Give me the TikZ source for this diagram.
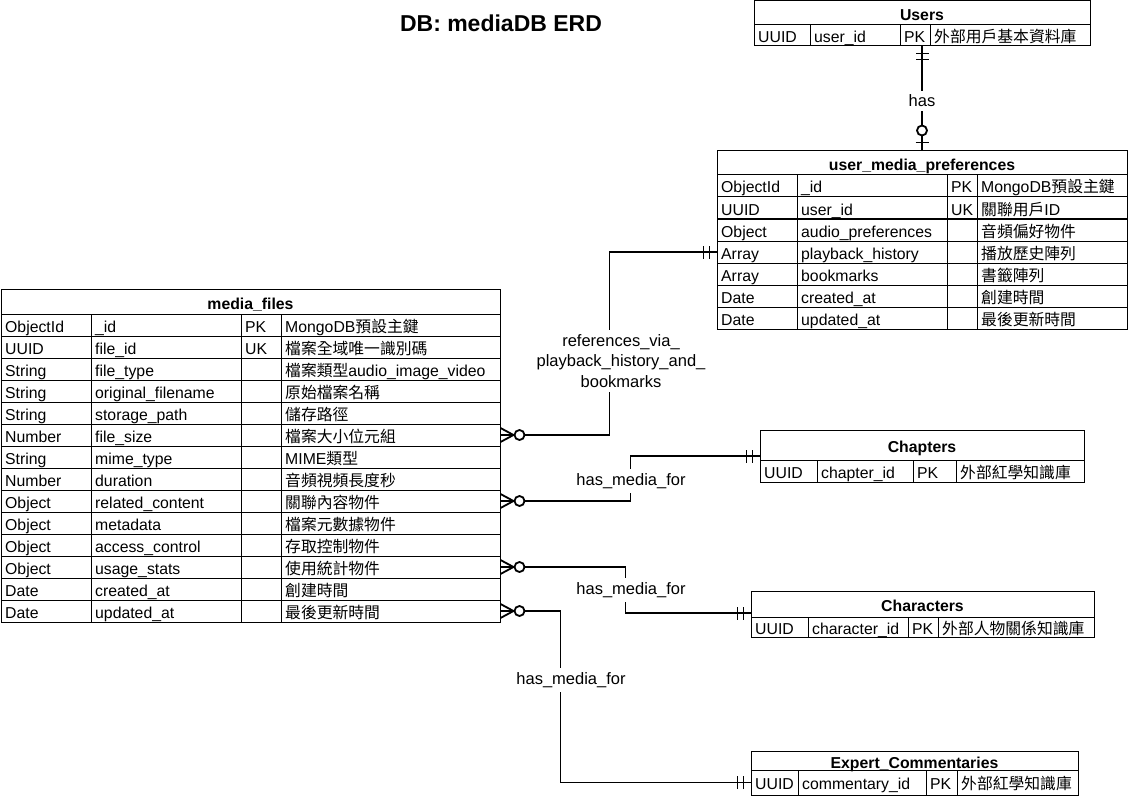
\documentclass[tikz,border=0pt]{standalone}
\usepackage{fontspec}
\setmainfont{Liberation Sans}
\newfontfamily\zhfont{Noto Sans CJK TC}
\newcommand\zh[1]{{\zhfont #1}}

\tikzset{
  tbl/.style={draw=black, line width=1pt, inner sep=0pt},
  tbltitle/.style={tbl, text height=15.5pt, text depth=0pt, font=\bfseries\fontsize{15.8}{19}\selectfont},
  cell/.style={anchor=west, inner xsep=4pt, inner ysep=0pt, text height=15pt, text depth=1pt, font=\fontsize{15.8}{19}\selectfont},
  link/.style={line width=1.8pt, black},
  lbl/.style={fill=white, inner xsep=1pt, inner ysep=4pt, align=center, font=\fontsize{16.5}{20.5}\selectfont},
  mone/.pic={\draw[link] (7,-6.5) -- (7,6.5) (13,-6.5) -- (13,6.5);},
  zone/.pic={\draw[link] (8,-6.5) -- (8,6.5); \draw[link, fill=white] (20,0) circle (5pt);},
  zmany/.pic={\draw[link] (0,-7) -- (13,0) -- (0,7) (0,0) -- (13,0); \draw[link, fill=white] (19,0) circle (5pt);},
}

\begin{document}
\begin{tikzpicture}[x=1pt, y=-1pt]
            \path[fill=white, use as bounding box] (0,0) rectangle (1128,797);
            % title
            \node[font=\bfseries\fontsize{23}{27}\selectfont] (title) at (501,23) {DB: mediaDB ERD};
            % Users table
            \node[tbltitle, minimum width=336, minimum height=24] (users) at (922,13) {Users};
            \node[tbl, minimum width=336, minimum height=21] (users-0) at (922,35.5) {};
            \node[cell] (users-0-t) at (754,35.5) {UUID};
            \node[cell] (users-0-n) at (810,35.5) {user\_id};
            \node[cell] (users-0-k) at (900,35.5) {PK};
            \node[cell] (users-0-d) at (930,35.5) {\zh{外部用戶基本資料庫}};
            \draw[tbl] (810,25) -- (810,46) (900,25) -- (900,46) (930,25) -- (930,46);
            % user_media_preferences table
            \node[tbltitle, minimum width=410, minimum height=24] (ump) at (922,163) {user\_media\_preferences};
            \foreach \t/\n/\k/\d [count=\i from 0] in {
              ObjectId/\_id/PK/MongoDB\zh{預設主鍵},
              UUID/user\_id/UK/\zh{關聯用戶}ID,
              Object/audio\_preferences//\zh{音頻偏好物件},
              Array/playback\_history//\zh{播放歷史陣列},
              Array/bookmarks//\zh{書籤陣列},
              Date/created\_at//\zh{創建時間},
              Date/updated\_at//\zh{最後更新時間}}{
              \node[tbl, minimum width=410, minimum height=22] (ump-\i) at (922,186+22*\i) {};
              \node[cell] (ump-\i-t) at (717,186+22*\i) {\t};
              \node[cell] (ump-\i-n) at (797,186+22*\i) {\n};
              \node[cell] (ump-\i-k) at (947,186+22*\i) {\k};
              \node[cell] (ump-\i-d) at (977,186+22*\i) {\d};
            }
            \draw[tbl] (797,175) -- (797,329) (947,175) -- (947,329) (977,175) -- (977,329);
            % media_files table
            \node[tbltitle, minimum width=499, minimum height=25] (mf) at (250.5,301.5) {media\_files};
            \foreach \t/\n/\k/\d [count=\i from 0] in {
              ObjectId/\_id/PK/MongoDB\zh{預設主鍵},
              UUID/file\_id/UK/\zh{檔案全域唯一識別碼},
              String/file\_type//\zh{檔案類型}audio\_image\_video,
              String/original\_filename//\zh{原始檔案名稱},
              String/storage\_path//\zh{儲存路徑},
              Number/file\_size//\zh{檔案大小位元組},
              String/mime\_type//MIME\zh{類型},
              Number/duration//\zh{音頻視頻長度秒},
              Object/related\_content//\zh{關聯內容物件},
              Object/metadata//\zh{檔案元數據物件},
              Object/access\_control//\zh{存取控制物件},
              Object/usage\_stats//\zh{使用統計物件},
              Date/created\_at//\zh{創建時間},
              Date/updated\_at//\zh{最後更新時間}}{
              \node[tbl, minimum width=499, minimum height=22] (mf-\i) at (250.5,325+22*\i) {};
              \node[cell] (mf-\i-t) at (1,325+22*\i) {\t};
              \node[cell] (mf-\i-n) at (91,325+22*\i) {\n};
              \node[cell] (mf-\i-k) at (241,325+22*\i) {\k};
              \node[cell] (mf-\i-d) at (281,325+22*\i) {\d};
            }
            \draw[tbl] (91,314) -- (91,622) (241,314) -- (241,622) (281,314) -- (281,622);
            % Chapters table
            \node[tbltitle, minimum width=324, minimum height=30] (chap) at (922,445) {Chapters};
            \node[tbl, minimum width=324, minimum height=22] (chap-0) at (922,471) {};
            \node[cell] (chap-0-t) at (760,471) {UUID};
            \node[cell] (chap-0-n) at (817,471) {chapter\_id};
            \node[cell] (chap-0-k) at (913,471) {PK};
            \node[cell] (chap-0-d) at (956,471) {\zh{外部紅學知識庫}};
            \draw[tbl] (817,460) -- (817,482) (913,460) -- (913,482) (956,460) -- (956,482);
            % Characters table
            \node[tbltitle, minimum width=343, minimum height=26] (char) at (922.5,604) {Characters};
            \node[tbl, minimum width=343, minimum height=20] (char-0) at (922.5,627) {};
            \node[cell] (char-0-t) at (751,627) {UUID};
            \node[cell] (char-0-n) at (808,627) {character\_id};
            \node[cell] (char-0-k) at (908,627) {PK};
            \node[cell] (char-0-d) at (938,627) {\zh{外部人物關係知識庫}};
            \draw[tbl] (808,617) -- (808,637) (908,617) -- (908,637) (938,617) -- (938,637);
            % Expert_Commentaries table
            \node[tbltitle, minimum width=327, minimum height=19] (exp) at (914.5,760.5) {Expert\_Commentaries};
            \node[tbl, minimum width=327, minimum height=25] (exp-0) at (914.5,782.5) {};
            \node[cell] (exp-0-t) at (751,782.5) {UUID};
            \node[cell] (exp-0-n) at (798,782.5) {commentary\_id};
            \node[cell] (exp-0-k) at (926,782.5) {PK};
            \node[cell] (exp-0-d) at (957,782.5) {\zh{外部紅學知識庫}};
            \draw[tbl] (798,770) -- (798,795) (926,770) -- (926,795) (957,770) -- (957,795);
            % has
            \draw[link] (users-0.south) -- (ump.north) node[lbl, pos=0.52] (has-lbl) {has};
            \pic[rotate=-90] at (users-0.south) {mone};
            \pic[rotate=90] at (ump.north) {zone};
            % references via playback history and bookmarks
            \draw[link] (mf-5.east) -- ++(109,0) |- (ump-3.west);
            \node[lbl] (ref-lbl) at (621,361) {references\_via\_\\playback\_history\_and\_\\bookmarks};
            \pic at (mf-5.east) {zmany};
            \pic[rotate=180] at (ump-3.west) {mone};
            % has media for chapters
            \draw[link] (mf-8.east) -- ++(130,0) |- ([yshift=-11pt]chap.west);
            \node[lbl] (chap-lbl) at (631,481) {has\_media\_for};
            \pic at (mf-8.east) {zmany};
            \pic[rotate=180] at ([yshift=-11pt]chap.west) {mone};
            % has media for characters
            \draw[link] (mf-11.east) -- ++(125,0) |- ([yshift=-9pt]char.west);
            \node[lbl] (char-lbl) at (631,590) {has\_media\_for};
            \pic at (mf-11.east) {zmany};
            \pic[rotate=180] at ([yshift=-9pt]char.west) {mone};
            % has media for expert commentaries
            \draw[link] (mf-13.east) -- ++(60,0) |- (exp-0.west);
            \node[lbl] (exp-lbl) at (571,680) {has\_media\_for};
            \pic at (mf-13.east) {zmany};
            \pic[rotate=180] at (exp-0.west) {mone};
\end{tikzpicture}
\end{document}
